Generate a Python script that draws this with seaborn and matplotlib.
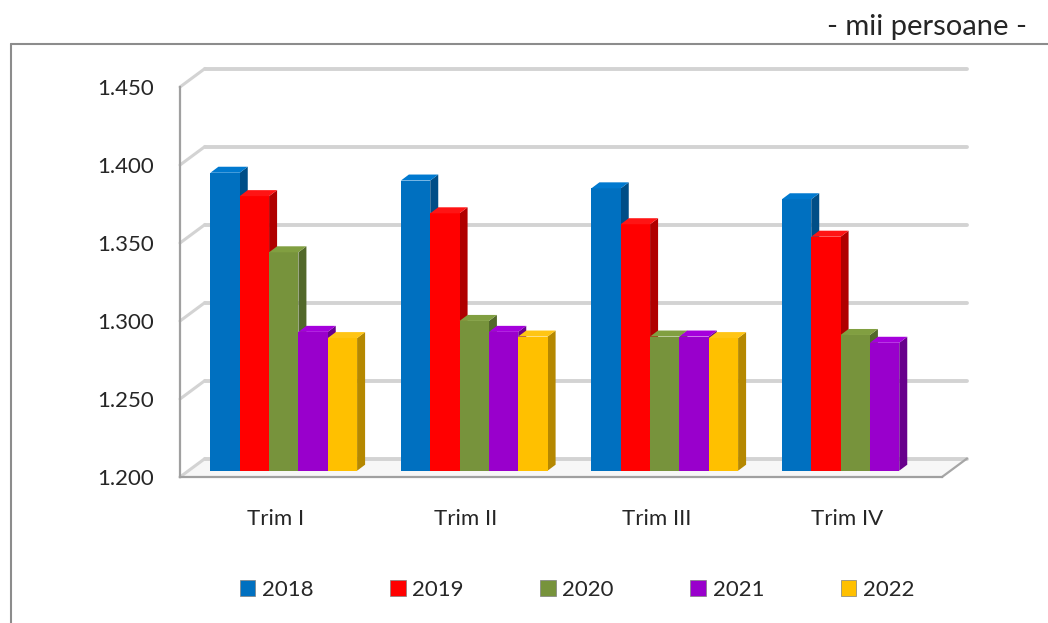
import numpy as np
import pandas as pd
import matplotlib.pyplot as plt
import matplotlib.transforms as mtrans
from matplotlib.patches import Polygon, Patch
from matplotlib.lines import Line2D
import seaborn as sns

# Date (mii persoane) pe trimestre
trimestre = ['Trim I', 'Trim II', 'Trim III', 'Trim IV']
ani = ['2018', '2019', '2020', '2021', '2022']
val_2018 = [1.391, 1.386, 1.381, 1.374]
val_2019 = [1.376, 1.365, 1.358, 1.350]
val_2020 = [1.340, 1.296, 1.286, 1.287]
val_2021 = [1.289, 1.289, 1.286, 1.282]
val_2022 = [1.285, 1.286, 1.285, np.nan]  # trim IV 2022 lipseste
y_ticks = [1.20, 1.25, 1.30, 1.35, 1.40, 1.45]

culori = ['#0070C0', '#FF0000', '#77933C', '#9900CC', '#FFC000']
culori_lat = ['#004E87', '#B00000', '#52682A', '#68008C', '#B58800']

rows = []
for an, vals in zip(ani, [val_2018, val_2019, val_2020, val_2021, val_2022]):
    for t, v in zip(trimestre, vals):
        if not np.isnan(v):
            rows.append({'trim': t, 'an': an, 'val': v})
df = pd.DataFrame(rows)

sns.set_style('white')
plt.rcParams['font.family'] = ['Lato', 'DejaVu Sans']

W, H = 1048, 623
fig = plt.figure(figsize=(W / 100, H / 100), dpi=100)
ax = fig.add_axes([180 / W, 1 - 477 / H, 762 / W, 390 / H])

sns.barplot(data=df, x='trim', y='val', hue='an', order=trimestre, hue_order=ani,
            palette=culori, saturation=1, width=0.77, legend=False, ax=ax)

ax.set_xlim(-0.5, 3.5)
ax.set_ylim(1.2, 1.45)
ax.set_xlabel('')
ax.set_ylabel('')

# pixeli -> unitati de date
px_x = 762 / 4
px_y = 390 / 0.25
ox, oy = 25 / px_x, 18.5 / px_y          # adancimea peretelui din spate
ddx, ddy = 8 / px_x, 6 / px_y            # adancimea unei coloane
off_bar = ax.transData + mtrans.ScaledTranslation(8.5 / 100, 6.3 / 100, fig.dpi_scale_trans)

grid_c = '#d3d3d3'
# perete spate + perete stanga
for y in y_ticks:
    ax.plot([-0.5 + ox, 3.5 + ox], [y + oy, y + oy], color=grid_c, lw=2.8,
            solid_capstyle='round', clip_on=False, zorder=1)
    ax.plot([-0.5, -0.5 + ox], [y, y + oy], color=grid_c, lw=2.2, clip_on=False, zorder=1)
ax.plot([3.5, 3.5 + ox], [1.2, 1.2 + oy], color='#a6a6a6', lw=1.6, clip_on=False, zorder=1)
floor = Polygon([(-0.5, 1.2), (-0.5 + ox, 1.2 + oy), (3.5 + ox, 1.2 + oy), (3.5, 1.2)],
                closed=True, facecolor='#f7f7f7', edgecolor='none', zorder=0.5, clip_on=False)
ax.add_patch(floor)

# efect 3D pe coloane
bars = []
for cont, c, cl in zip(ax.containers, culori, culori_lat):
    for bar in cont:
        bars.append((bar, c, cl))
bars.sort(key=lambda b: b[0].get_x())
for r, (bar, c, cl) in enumerate(bars):
    x0, w, h = bar.get_x(), bar.get_width(), bar.get_height()
    bar.set_y(1.2)
    bar.set_height(h - 1.2)
    bar.set_transform(off_bar)
    bar.set_clip_on(False)
    bar.set_edgecolor('none')
    z = 2 + 0.01 * r
    bar.set_zorder(z + 0.005)
    side = Polygon([(x0 + w, 1.2), (x0 + w + ddx, 1.2 + ddy), (x0 + w + ddx, h + ddy), (x0 + w, h)],
                   closed=True, facecolor=cl, edgecolor='none', transform=off_bar,
                   clip_on=False, zorder=z)
    top_c = sns.set_hls_values(c, l=min(1, sns.utils.colorsys.rgb_to_hls(*plt.matplotlib.colors.to_rgb(c))[1] * 1.08))
    top = Polygon([(x0, h), (x0 + ddx, h + ddy), (x0 + w + ddx, h + ddy), (x0 + w, h)],
                  closed=True, facecolor=top_c, edgecolor='none', transform=off_bar,
                  clip_on=False, zorder=z + 0.006)
    ax.add_patch(side)
    ax.add_patch(top)

# axe
for s in ['top', 'right']:
    ax.spines[s].set_visible(False)
for s in ['left', 'bottom']:
    ax.spines[s].set_color('#a0a0a0')
    ax.spines[s].set_linewidth(1.6)
    ax.spines[s].set_zorder(1.5)

ax.set_yticks(y_ticks)
ax.set_yticklabels([f'{v:.3f}' for v in y_ticks], fontsize=16)
ax.tick_params(axis='y', direction='out', length=6, width=1.6, color='#a0a0a0', pad=13)
ax.set_xticks(range(4))
ax.set_xticklabels(trimestre, fontsize=16)
ax.set_xticks([-0.5, 0.5, 1.5, 2.5, 3.5], minor=True)
ax.tick_params(axis='x', which='major', length=0, pad=23)
ax.tick_params(axis='x', which='minor', direction='out', length=6, width=1.6, color='#a0a0a0')
ax.grid(False)

# legenda
handles = [Patch(facecolor=c, edgecolor='#7f7f7f', linewidth=0.5) for c in culori]
fig.legend(handles, ani, loc='center', bbox_to_anchor=(577 / W, 1 - 590 / H), ncol=5,
           frameon=False, fontsize=16, handlelength=0.7, handleheight=0.7,
           handletextpad=0.3, columnspacing=3.44)

# chenar + unitate
fig.add_artist(Line2D([11 / W, 11 / W], [0, 1 - 44 / H], transform=fig.transFigure,
                      color='#8c8c8c', lw=1.5))
fig.add_artist(Line2D([11 / W, 1], [1 - 44 / H, 1 - 44 / H], transform=fig.transFigure,
                      color='#8c8c8c', lw=1.5))
fig.text(1027 / W, 1 - 27 / H, '- mii persoane -', ha='right', va='center', fontsize=21)

fig.savefig('out.png', dpi=100)
